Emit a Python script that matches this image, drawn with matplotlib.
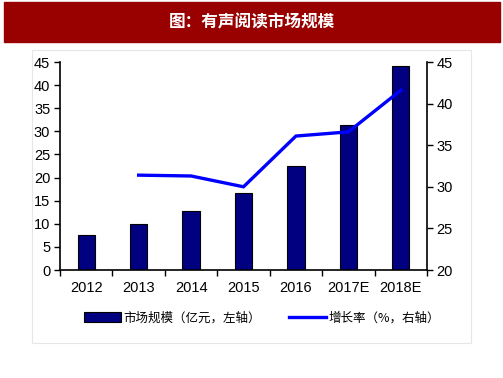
import matplotlib
matplotlib.use("Agg")
import matplotlib.pyplot as plt
from matplotlib.patches import Rectangle
import numpy as np

plt.rcParams['font.family'] = ['Liberation Sans', 'Noto Sans CJK SC', 'DejaVu Sans']

categories = ["2012", "2013", "2014", "2015", "2016", "2017E", "2018E"]
market_size = [7.6, 10.0, 12.8, 16.6, 22.6, 31.4, 44.2]
growth_cats = ["2013", "2014", "2015", "2016", "2017E", "2018E"]
growth_rate = [31.4, 31.3, 30.0, 36.1, 36.6, 41.6]

title = "图：有声阅读市场规模"
bar_label = "市场规模（亿元，左轴）"
line_label = "增长率（%，右轴）"

W, H = 503, 378
fig = plt.figure(figsize=(W / 100, H / 100), dpi=100)

# title band
fig.patches.append(Rectangle((4 / W, 1 - 42 / H), 496 / W, 40 / H,
                             transform=fig.transFigure, color="#990000", zorder=0))
fig.text(252 / W, 1 - 22 / H, title, color="white", fontsize=12, fontweight="bold",
         ha="center", va="center", family=["Noto Sans CJK SC", "DejaVu Sans"])

# chart border box
fig.patches.append(Rectangle((32 / W, 1 - 343 / H), 439 / W, 293 / H,
                             transform=fig.transFigure, fill=False,
                             edgecolor="#e6e6e6", linewidth=0.8, zorder=0))

ax = fig.add_axes([60 / W, 1 - 270 / H, 367 / W, 208 / H])
ax.patch.set_alpha(0)
x = np.arange(len(categories))
bars = ax.bar(x, market_size, width=0.33, color="#000080", edgecolor="black",
              linewidth=0.8, label=bar_label, zorder=2)
ax.set_xlim(-0.5, len(categories) - 0.5)
ax.set_ylim(0, 45)
ax.set_yticks(range(0, 46, 5))
ax.set_xticks(x)
ax.set_xticklabels(categories)
ax.set_xticks(np.arange(-0.5, len(categories), 1), minor=True)
ax.tick_params(axis="x", which="major", length=0, pad=8)
ax.tick_params(axis="x", which="minor", length=4, direction="out", width=1)
ax.tick_params(axis="y", length=4, direction="out", width=1, pad=3)
ax.tick_params(labelsize=10.5)
for s in ["top", "right"]:
    ax.spines[s].set_visible(False)
ax.spines["left"].set_linewidth(1.2)
ax.spines["bottom"].set_linewidth(1.2)

ax2 = ax.twinx()
gx = [categories.index(c) for c in growth_cats]
line, = ax2.plot(gx, growth_rate, color="#0000ff", linewidth=2.4, label=line_label,
                 zorder=3, solid_joinstyle="miter")
ax2.set_ylim(20, 45)
ax2.set_yticks(range(20, 46, 5))
ax2.tick_params(axis="y", length=4, direction="out", width=1, labelsize=10.5, pad=3)
for s in ["top", "left", "bottom"]:
    ax2.spines[s].set_visible(False)
ax2.spines["right"].set_linewidth(1.2)

fig.legend([bars, line], [bar_label, line_label], loc="center",
           bbox_to_anchor=(262 / W, 1 - 318 / H), ncol=2, frameon=False,
           prop={"family": ["Noto Sans CJK SC", "DejaVu Sans"], "size": 9},
           handlelength=3.0, handletextpad=0.2, columnspacing=2.2, handleheight=0.8)

fig.savefig("out.png", dpi=100)
